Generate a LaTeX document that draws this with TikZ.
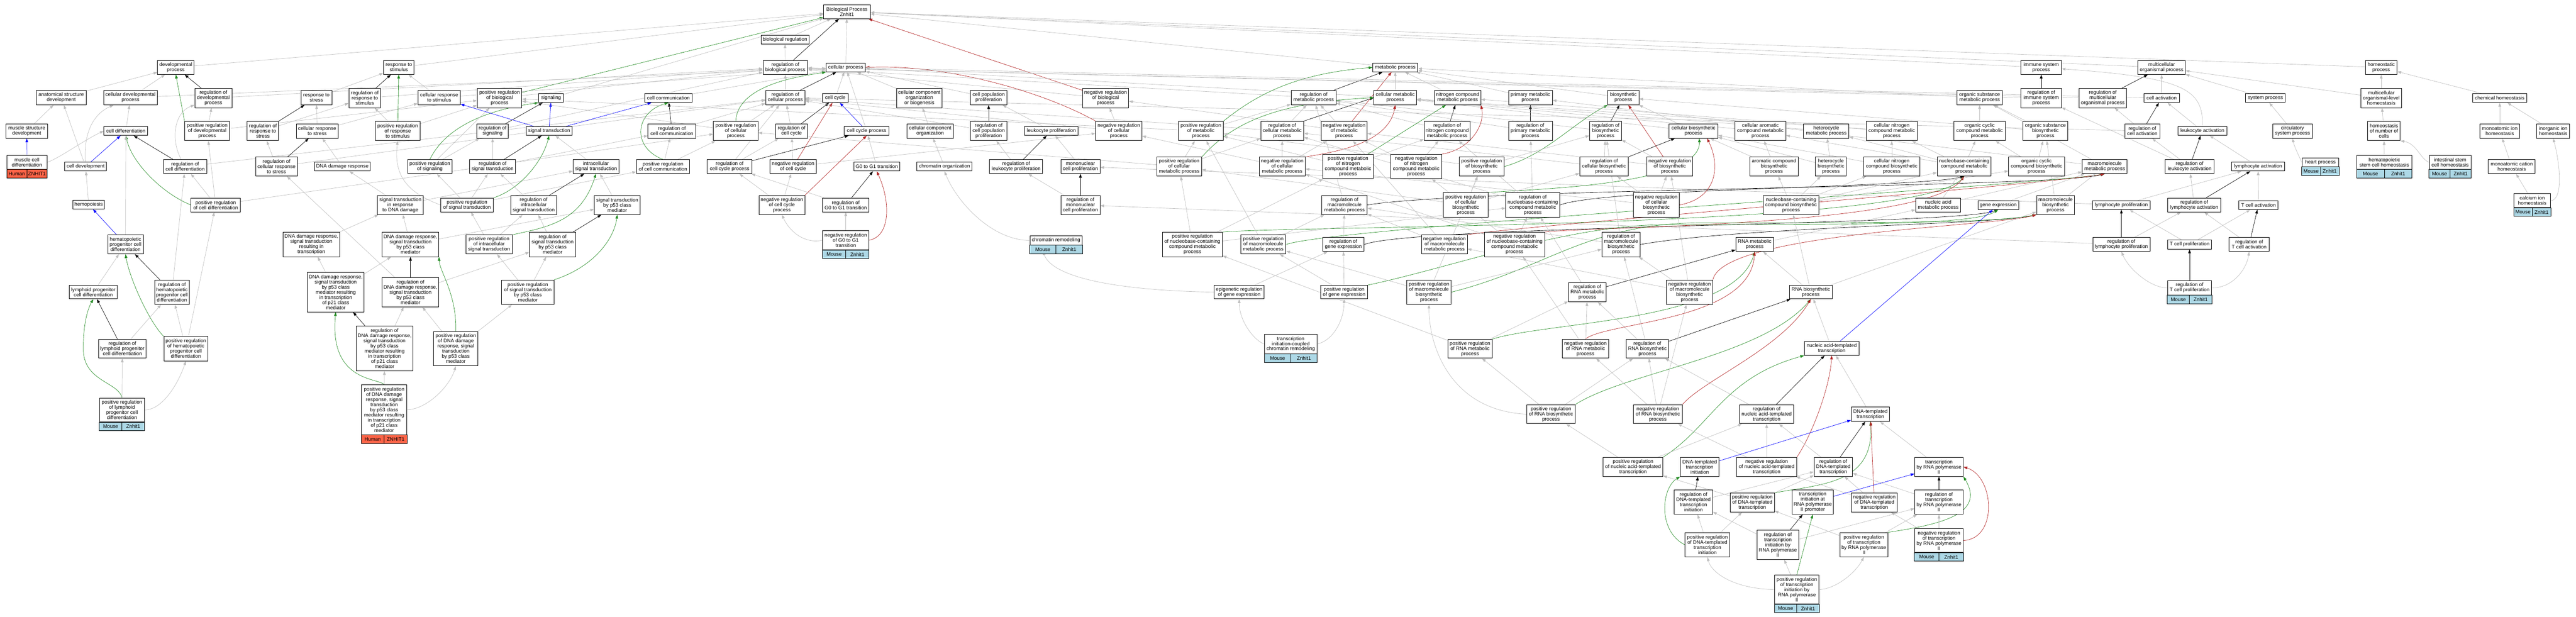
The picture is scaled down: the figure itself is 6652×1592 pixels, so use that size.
\documentclass[tikz,border=0pt]{standalone}
\usepackage{fontspec}
\usepackage{tikz}
\usetikzlibrary{arrows.meta,calc,backgrounds}
\newfontfamily\gofont{Liberation Sans}
\definecolor{edgegrey}{RGB}{190,190,190}
\definecolor{posgreen}{RGB}{34,139,34}
\definecolor{negred}{RGB}{178,34,34}
\definecolor{partblue}{RGB}{0,0,255}
\definecolor{humanred}{RGB}{255,99,71}
\definecolor{mouseblue}{RGB}{173,216,230}
\tikzset{
	term/.style={draw, fill=white, line width=1.2pt, inner sep=0pt, align=center, font=\gofont\fontsize{13}{13.3}\selectfont},
	rowbox/.style={draw=black, line width=1.2pt},
	rowtext/.style={inner sep=0pt, font=\gofont\fontsize{13}{13.3}\selectfont},
	isarel/.style={draw=edgegrey, line width=0.9pt, -{Triangle[length=10pt,width=7pt]}},
	regrel/.style={isarel, draw=black},
	posrel/.style={isarel, draw=posgreen},
	negrel/.style={isarel, draw=negred},
	partrel/.style={isarel, draw=partblue}
}
\newcommand{\goterm}[6]{\node[term, minimum width=#4, minimum height=#5] (#1) at (#2, #3) {#6};}
\newcommand{\generow}[4]{%
	\draw[rowbox, fill=#2] (#1.south west) rectangle ($(#1.south east)+(0,22)$);
	\draw[rowbox] (#1.south) -- ($(#1.south)+(0,22)$);
	\node[rowtext] (#1-sp) at ($(#1.south west)!0.5!(#1.south)+(0,11)$) {#3};
	\node[rowtext] (#1-gn) at ($(#1.south)!0.5!(#1.south east)+(0,11)$) {#4};
}

\begin{document}
\begin{tikzpicture}[x=1pt, y=-1pt]
			%%%%% START %%%%%
			\useasboundingbox (0,0) rectangle (6652,1592);
			
			\goterm{bp}{2187}{30}{120}{36}{Biological Process\\Znhit1}
			\goterm{bioreg}{2027}{102}{124}{23}{biological regulation}
			
			\goterm{devp}{454}{174}{94}{36}{developmental\\process}
			\goterm{resp}{1030}{174}{79}{36}{response to\\stimulus}
			\goterm{regbp}{2028}{174}{115}{36}{regulation of\\biological process}
			\goterm{cellp}{2184}{174}{101}{23}{cellular process}
			\goterm{metab}{3603}{174}{116}{23}{metabolic process}
			\goterm{immsys}{5271}{174}{104}{36}{immune system\\process}
			\goterm{multorg}{5582}{174}{122}{36}{multicellular\\organismal process}
			\goterm{homeo}{6149}{174}{82}{36}{homeostatic\\process}
			
			\goterm{anat}{158}{252}{129}{37}{anatomical structure\\development}
			\goterm{celldev}{337}{252}{139}{37}{cellular developmental\\process}
			\goterm{regdev}{551}{253}{96}{50}{regulation of\\developmental\\process}
			\goterm{respstress}{817}{252}{80}{37}{response to\\stress}
			\goterm{regresp}{942}{253}{82}{50}{regulation of\\response to\\stimulus}
			\goterm{cellresp}{1134}{252}{109}{37}{cellular response\\to stimulus}
			\goterm{posregbp}{1290}{253}{115}{50}{positive regulation\\of biological\\process}
			\goterm{signaling}{1423}{253}{63}{23}{signaling}
			\goterm{cellcomm}{1726}{253}{122}{23}{cell communication}
			\goterm{regcellp}{2028}{252}{101}{37}{regulation of\\cellular process}
			\goterm{cellcycle}{2157}{253}{67}{23}{cell cycle}
			\goterm{ccob}{2374}{253}{118}{50}{cellular component\\organization\\or biogenesis}
			\goterm{cellprolif}{2553}{252}{94}{37}{cell population\\proliferation}
			\goterm{negregbp}{2855}{253}{119}{50}{negative regulation\\of biological\\process}
			\goterm{regmetab}{3392}{252}{116}{37}{regulation of\\metabolic process}
			\goterm{cellmetab}{3603}{252}{110}{37}{cellular metabolic\\process}
			\goterm{nitro}{3764}{252}{119}{37}{nitrogen compound\\metabolic process}
			\goterm{primmetab}{3952}{252}{113}{37}{primary metabolic\\process}
			\goterm{biosyn}{4192}{252}{80}{37}{biosynthetic\\process}
			\goterm{orgsub}{5112}{252}{116}{37}{organic substance\\metabolic process}
			\goterm{regimm}{5271}{253}{104}{50}{regulation of\\immune system\\process}
			\goterm{regmult}{5430}{253}{123}{50}{regulation of\\multicellular\\organismal process}
			\goterm{cellact}{5582}{253}{92}{23}{cell activation}
			\goterm{sysproc}{5850}{253}{102}{23}{system process}
			\goterm{multhomeo}{6149}{253}{104}{50}{multicellular\\organismal-level\\homeostasis}
			\goterm{chemhomeo}{6455}{253}{140}{23}{chemical homeostasis}
			
			\goterm{musclestruct}{69}{338}{107}{37}{muscle structure\\development}
			\goterm{celldiff}{325}{338}{113}{23}{cell differentiation}
			\goterm{posregdev}{535}{338}{116}{50}{positive regulation\\of developmental\\process}
			\goterm{regrespstress}{679}{338}{81}{50}{regulation of\\response to\\stress}
			\goterm{cellrespstress}{819}{338}{108}{37}{cellular response\\to stress}
			\goterm{posregresp}{1027}{338}{116}{50}{positive regulation\\of response\\to stimulus}
			\goterm{regsig}{1272}{338}{81}{37}{regulation of\\signaling}
			\goterm{sigtrans}{1418}{338}{119}{23}{signal transduction}
			\goterm{regcellcomm}{1735}{338}{123}{37}{regulation of\\cell communication}
			\goterm{posregcellp}{1900}{338}{115}{50}{positive regulation\\of cellular\\process}
			\goterm{regcc}{2044}{338}{82}{37}{regulation of\\cell cycle}
			\goterm{ccproc}{2238}{338}{116}{23}{cell cycle process}
			\goterm{ccorg}{2402}{338}{119}{37}{cellular component\\organization}
			\goterm{regcellprolif}{2553}{338}{94}{50}{regulation of\\cell population\\proliferation}
			\goterm{leukprolif}{2715}{338}{138}{23}{leukocyte proliferation}
			\goterm{negregcellp}{2889}{338}{119}{50}{negative regulation\\of cellular\\process}
			\goterm{posregmetab}{3101}{338}{116}{50}{positive regulation\\of metabolic\\process}
			\goterm{regcellmetab}{3311}{338}{111}{50}{regulation of\\cellular metabolic\\process}
			\goterm{negregmetab}{3471}{338}{118}{50}{negative regulation\\of metabolic\\process}
			\goterm{regnitro}{3737}{338}{119}{50}{regulation of\\nitrogen compound\\metabolic process}
			\goterm{regprim}{3952}{338}{113}{50}{regulation of\\primary metabolic\\process}
			\goterm{regbiosyn}{4146}{338}{82}{50}{regulation of\\biosynthetic\\process}
			\goterm{cellbiosyn}{4373}{338}{126}{37}{cellular biosynthetic\\process}
			\goterm{aromet}{4546}{338}{131}{50}{cellular aromatic\\compound metabolic\\process}
			\goterm{hetmet}{4716}{338}{117}{37}{heterocycle\\metabolic process}
			\goterm{cellnitmet}{4885}{338}{131}{50}{cellular nitrogen\\compound metabolic\\process}
			\goterm{orgcycmet}{5112}{338}{132}{50}{organic cyclic\\compound metabolic\\process}
			\goterm{orgsubbiosyn}{5282}{338}{116}{50}{organic substance\\biosynthetic\\process}
			\goterm{regcellact}{5532}{338}{90}{37}{regulation of\\cell activation}
			\goterm{leukact}{5687}{338}{126}{23}{leukocyte activation}
			\goterm{circsys}{5920}{338}{103}{37}{circulatory\\system process}
			\goterm{homeonum}{6156}{338}{84}{50}{homeostasis\\of number of\\cells}
			\goterm{ionhomeo}{6455}{338}{102}{37}{monoatomic ion\\homeostasis}
			\goterm{inorghomeo}{6593}{338}{85}{37}{inorganic ion\\homeostasis}
			
			\goterm{musclediff}{69.5}{419}{103}{36}{muscle cell\\differentiation}
			\generow{musclediff}{humanred}{Human}{ZNHIT1}
			\goterm{celldevel}{221}{430}{108}{23}{cell development}
			\goterm{regcelldiff}{478}{430}{112}{36}{regulation of\\cell differentiation}
			\goterm{regcellrespstress}{714}{430}{108}{49}{regulation of\\cellular response\\to stress}
			\goterm{dnadamage}{884}{430}{143}{23}{DNA damage response}
			\goterm{posregsig}{1110}{430}{114}{36}{positive regulation\\of signaling}
			\goterm{regsigtrans}{1272}{430}{119}{36}{regulation of\\signal transduction}
			\goterm{intrasig}{1539}{430}{118}{36}{intracellular\\signal transduction}
			\goterm{posregcellcomm}{1712}{430}{137}{36}{positive regulation\\of cell communication}
			\goterm{regccproc}{1884}{430}{115}{36}{regulation of\\cell cycle process}
			\goterm{negregcc}{2048}{430}{119}{36}{negative regulation\\of cell cycle}
			\goterm{g0g1}{2264}{430}{118}{23}{G0 to G1 transition}
			\goterm{chromorg}{2439}{430}{142}{23}{chromatin organization}
			\goterm{regleukprolif}{2624}{430}{137}{36}{regulation of\\leukocyte proliferation}
			\goterm{mnprolif}{2790}{430}{101}{36}{mononuclear\\cell proliferation}
			\goterm{posregcellmetab}{3045}{430}{116}{49}{positive regulation\\of cellular\\metabolic process}
			\goterm{negregcellmetab}{3311}{430}{119}{49}{negative regulation\\of cellular\\metabolic process}
			\goterm{posregnitro}{3481}{430}{131}{63}{positive regulation\\of nitrogen\\compound metabolic\\process}
			\goterm{negregnitro}{3657}{430}{131}{63}{negative regulation\\of nitrogen\\compound metabolic\\process}
			\goterm{posregbiosyn}{3826}{430}{115}{49}{positive regulation\\of biosynthetic\\process}
			\goterm{regcellbiosyn}{4142}{430}{125}{49}{regulation of\\cellular biosynthetic\\process}
			\goterm{negregbiosyn}{4312}{430}{119}{49}{negative regulation\\of biosynthetic\\process}
			\goterm{arobiosyn}{4581}{430}{124}{49}{aromatic compound\\biosynthetic\\process}
			\goterm{hetbiosyn}{4728}{430}{80}{49}{heterocycle\\biosynthetic\\process}
			\goterm{cellnitbiosyn}{4885}{430}{144}{49}{cellular nitrogen\\compound biosynthetic\\process}
			\goterm{nucmet}{5072}{430}{139}{49}{nucleobase-containing\\compound metabolic\\process}
			\goterm{orgcycbiosyn}{5259}{430}{144}{49}{organic cyclic\\compound biosynthetic\\process}
			\goterm{macromet}{5435}{430}{116}{36}{macromolecule\\metabolic process}
			\goterm{regleukact}{5654}{430}{126}{36}{regulation of\\leukocyte activation}
			\goterm{lymphact}{5831}{430}{137}{23}{lymphocyte activation}
			\goterm{heart}{5992}{419}{95}{22}{heart process}
			\generow{heart}{mouseblue}{Mouse}{Znhit1}
			\goterm{hsch}{6157}{419}{142}{36}{hematopoietic\\stem cell homeostasis}
			\generow{hsch}{mouseblue}{Mouse}{Znhit1}
			\goterm{isch}{6327}{419}{108}{36}{intestinal stem\\cell homeostasis}
			\generow{isch}{mouseblue}{Mouse}{Znhit1}
			\goterm{cationhomeo}{6486}{430}{121}{36}{monoatomic cation\\homeostasis}
			
			\goterm{hemo}{229}{528}{82}{23}{hemopoiesis}
			\goterm{posregcelldiff}{557}{529}{127}{36}{positive regulation\\of cell differentiation}
			\goterm{sigdna}{1034}{529}{118}{49}{signal transduction\\in response\\to DNA damage}
			\goterm{posregsigtrans}{1206}{529}{136}{36}{positive regulation\\of signal transduction}
			\goterm{regintrasig}{1378}{529}{118}{49}{regulation of\\intracellular\\signal transduction}
			\goterm{sigp53}{1594}{529}{118}{49}{signal transduction\\by p53 class\\mediator}
			\goterm{negregccproc}{2019}{529}{118}{49}{negative regulation\\of cell cycle\\process}
			\goterm{regg0g1}{2184}{529}{119}{36}{regulation of\\G0 to G1 transition}
			\goterm{regmnprolif}{2790}{529}{101}{49}{regulation of\\mononuclear\\cell proliferation}
			\goterm{regmacromet}{3472}{529}{117}{49}{regulation of\\macromolecule\\metabolic process}
			\goterm{posregcellbiosyn}{3785}{529}{115}{63}{positive regulation\\of cellular\\biosynthetic\\process}
			\goterm{regnucmet}{3958}{529}{139}{63}{regulation of\\nucleobase-containing\\compound metabolic\\process}
			\goterm{negregcellbiosyn}{4277}{529}{119}{63}{negative regulation\\of cellular\\biosynthetic\\process}
			\goterm{nucbiosyn}{4625}{529}{144}{49}{nucleobase-containing\\compound biosynthetic\\process}
			\goterm{nucacidmet}{5005}{529}{116}{36}{nucleic acid\\metabolic process}
			\goterm{geneexp}{5160}{529}{105}{23}{gene expression}
			\goterm{macrobiosyn}{5308}{529}{98}{49}{macromolecule\\biosynthetic\\process}
			\goterm{lymphprolif}{5478}{529}{149}{23}{lymphocyte proliferation}
			\goterm{reglymphact}{5666}{529}{138}{36}{regulation of\\lymphocyte activation}
			\goterm{tcellact}{5832}{529}{101}{23}{T cell activation}
			\goterm{calcium}{6539}{518}{95}{36}{calcium ion\\homeostasis}
			\generow{calcium}{mouseblue}{Mouse}{Znhit1}
			
			\goterm{hpcdiff}{324}{631}{92}{49}{hematopoietic\\progenitor cell\\differentiation}
			\goterm{dnasigtrans}{804}{631}{146}{63}{DNA damage response,\\signal transduction\\resulting in\\transcription}
			\goterm{dnap53}{1060}{631}{146}{63}{DNA damage response,\\signal transduction\\by p53 class\\mediator}
			\goterm{posregintrasig}{1263}{631}{119}{49}{positive regulation\\of intracellular\\signal transduction}
			\goterm{regsigp53}{1427}{631}{119}{63}{regulation of\\signal transduction\\by p53 class\\mediator}
			\goterm{negregg0g1}{2184}{620}{119}{50}{negative regulation\\of G0 to G1\\transition}
			\generow{negregg0g1}{mouseblue}{Mouse}{Znhit1}
			\goterm{chromremod}{2727}{620.5}{135}{23}{chromatin remodeling}
			\generow{chromremod}{mouseblue}{Mouse}{Znhit1}
			\goterm{posregnucmet}{3079}{631}{155}{63}{positive regulation\\of nucleobase-containing\\compound metabolic\\process}
			\goterm{posregmacromet}{3262}{631}{117}{49}{positive regulation\\of macromolecule\\metabolic process}
			\goterm{reggeneexp}{3469}{631}{107}{36}{regulation of\\gene expression}
			\goterm{negregmacromet}{3730}{631}{118}{49}{negative regulation\\of macromolecule\\metabolic process}
			\goterm{negregnucmet}{3911}{631}{155}{63}{negative regulation\\of nucleobase-containing\\compound metabolic\\process}
			\goterm{regmacrobiosyn}{4186}{631}{99}{63}{regulation of\\macromolecule\\biosynthetic\\process}
			\goterm{rnamet}{4531}{631}{97}{36}{RNA metabolic\\process}
			\goterm{reglymphprolif}{5478}{631}{148}{36}{regulation of\\lymphocyte proliferation}
			\goterm{tcellprolif}{5654}{631}{114}{24}{T cell proliferation}
			\goterm{regtcellact}{5808}{631}{103}{36}{regulation of\\T cell activation}
			
			\goterm{lymphprog}{241}{754}{123}{35}{lymphoid progenitor\\cell differentiation}
			\goterm{reghpcdiff}{444}{754}{89}{63}{regulation of\\hematopoietic\\progenitor cell\\differentiation}
			\goterm{dnap21}{867}{754}{147}{102}{DNA damage response,\\signal transduction\\by p53 class\\mediator resulting\\in transcription\\of p21 class\\mediator}
			\goterm{regdnap53}{1060}{754}{146}{76}{regulation of\\DNA damage response,\\signal transduction\\by p53 class\\mediator}
			\goterm{posregsigp53}{1363}{754}{136}{63}{positive regulation\\of signal transduction\\by p53 class\\mediator}
			\goterm{epigen}{3200}{754}{129}{35}{epigenetic regulation\\of gene expression}
			\goterm{posreggeneexp}{3471}{754}{120}{35}{positive regulation\\of gene expression}
			\goterm{posregmacrobiosyn}{3690}{754}{115}{63}{positive regulation\\of macromolecule\\biosynthetic\\process}
			\goterm{regrnamet}{4099}{754}{97}{50}{regulation of\\RNA metabolic\\process}
			\goterm{negregmacrobiosyn}{4363}{754}{119}{63}{negative regulation\\of macromolecule\\biosynthetic\\process}
			\goterm{rnabiosyn}{4676}{754}{111}{35}{RNA biosynthetic\\process}
			\goterm{regtcellprolif}{5654}{742.5}{114}{37}{regulation of\\T cell proliferation}
			\generow{regtcellprolif}{mouseblue}{Mouse}{Znhit1}
			
			\goterm{reglymphprog}{316}{900}{122}{49}{regulation of\\lymphoid progenitor\\cell differentiation}
			\goterm{posreghpcdiff}{480}{900}{114}{63}{positive regulation\\of hematopoietic\\progenitor cell\\differentiation}
			\goterm{regdnap21}{993}{899}{147}{116}{regulation of\\DNA damage response,\\signal transduction\\by p53 class\\mediator resulting\\in transcription\\of p21 class\\mediator}
			\goterm{posregdnap53}{1177}{900}{115}{89}{positive regulation\\of DNA damage\\response, signal\\transduction\\by p53 class\\mediator}
			\goterm{transchrom}{3333}{888}{135}{50}{transcription\\initiation-coupled\\chromatin remodeling}
			\generow{transchrom}{mouseblue}{Mouse}{Znhit1}
			\goterm{posregrnamet}{3796}{900}{115}{49}{positive regulation\\of RNA metabolic\\process}
			\goterm{negregrnamet}{4094}{900}{119}{49}{negative regulation\\of RNA metabolic\\process}
			\goterm{regrnabiosyn}{4254}{900}{110}{49}{regulation of\\RNA biosynthetic\\process}
			\goterm{natrans}{4730}{899}{141}{36}{nucleic acid-templated\\transcription}
			
			\goterm{posreglymphprog}{315}{1058}{116}{62}{positive regulation\\of lymphoid\\progenitor cell\\differentiation}
			\generow{posreglymphprog}{mouseblue}{Mouse}{Znhit1}
			\goterm{posregdnap21}{992}{1057.5}{117}{129}{positive regulation\\of DNA damage\\response, signal\\transduction\\by p53 class\\mediator resulting\\in transcription\\of p21 class\\mediator}
			\generow{posregdnap21}{humanred}{Human}{ZNHIT1}
			\goterm{posregrnabiosyn}{4005}{1069}{125}{49}{positive regulation\\of RNA biosynthetic\\process}
			\goterm{negregrnabiosyn}{4281}{1069}{126}{49}{negative regulation\\of RNA biosynthetic\\process}
			\goterm{regnatrans}{4562}{1069}{140}{49}{regulation of\\nucleic acid-templated\\transcription}
			\goterm{dnatrans}{4830}{1069}{99}{37}{DNA-templated\\transcription}
			
			\goterm{posregnatrans}{4217}{1205}{154}{49}{positive regulation\\of nucleic acid-templated\\transcription}
			\goterm{dnatransinit}{4389}{1205}{100}{49}{DNA-templated\\transcription\\initiation}
			\goterm{negregnatrans}{4562}{1205}{155}{49}{negative regulation\\of nucleic acid-templated\\transcription}
			\goterm{regdnatrans}{4734}{1205}{99}{49}{regulation of\\DNA-templated\\transcription}
			\goterm{transpol2}{5007}{1205}{125}{49}{transcription\\by RNA polymerase\\II}
			
			\goterm{regdnatransinit}{4373}{1296}{99}{63}{regulation of\\DNA-templated\\transcription\\initiation}
			\goterm{posregdnatrans}{4525}{1297}{114}{49}{positive regulation\\of DNA-templated\\transcription}
			\goterm{transinitpol2}{4681}{1296}{106}{63}{transcription\\initiation at\\RNA polymerase\\II promoter}
			\goterm{negregdnatrans}{4840}{1297}{118}{49}{negative regulation\\of DNA-templated\\transcription}
			\goterm{regtranspol2}{5007}{1296}{125}{63}{regulation of\\transcription\\by RNA polymerase\\II}
			
			\goterm{posregdnatransinit}{4409}{1406}{116}{63}{positive regulation\\of DNA-templated\\transcription\\initiation}
			\goterm{regtransinitpol2}{4591}{1406}{108}{76}{regulation of\\transcription\\initiation by\\RNA polymerase\\II}
			\goterm{posregtranspol2}{4813}{1406}{124}{63}{positive regulation\\of transcription\\by RNA polymerase\\II}
			\goterm{negregtranspol2}{5007}{1395}{126}{62}{negative regulation\\of transcription\\by RNA polymerase\\II}
			\generow{negregtranspol2}{mouseblue}{Mouse}{Znhit1}
			\goterm{posregtransinitpol2}{4640}{1521.5}{115}{75}{positive regulation\\of transcription\\initiation by\\RNA polymerase\\II}
			\generow{posregtransinitpol2}{mouseblue}{Mouse}{Znhit1}
			
			\begin{scope}[on background layer]
			\fill[white] (0,0) rectangle (6652,1592);
			
			\draw[isarel] (bioreg) -- (bp);
			\draw[regrel] (regbp) -- (bp);
			\draw[isarel] (regbp) -- (bioreg);
			\draw[isarel] (cellp) -- (bp);
			\draw[posrel] (posregbp) -- (bp);
			\draw[negrel] (negregbp) -- (bp);
			\draw[isarel] (devp) -- (bp);
			\draw[isarel] (resp) -- (bp);
			\draw[isarel] (signaling) -- (bp);
			\draw[isarel] (metab) -- (bp);
			\draw[isarel] (immsys) -- (bp);
			\draw[isarel] (multorg) -- (bp);
			\draw[isarel] (homeo) -- (bp);
			
			\draw[isarel] (anat) -- (devp);
			\draw[isarel] (celldev) -- (devp);
			\draw[isarel] (celldev) -- (cellp);
			\draw[regrel] (regdev) -- (devp);
			\draw[isarel] (regdev) -- (regbp);
			\draw[isarel] (musclestruct) -- (anat);
			\draw[isarel] (celldiff) -- (celldev);
			\draw[posrel] (posregdev.north west) -- (devp.south);
			\draw[isarel] (posregdev) -- (regdev);
			\draw[isarel] (posregdev) -- (posregbp);
			\draw[partrel] (musclediff) -- (musclestruct);
			\draw[isarel] (musclediff.east) .. controls (150,410) and (220,360) .. (celldiff.west);
			\draw[partrel] (celldevel) -- (celldiff);
			\draw[isarel] (celldevel) -- (anat);
			\draw[isarel] (celldevel) .. controls (215,330) and (250,290) .. (celldev);
			\draw[regrel] (regcelldiff) -- (celldiff);
			\draw[isarel] (regcelldiff) .. controls (440,360) and (450,290) .. (regdev);
			\draw[isarel] (regcelldiff) -- (regcellp);
			\draw[posrel] (posregcelldiff.west) .. controls (420,500) and (340,420) .. (celldiff.south);
			\draw[isarel] (posregcelldiff) -- (regcelldiff);
			\draw[isarel] (posregcelldiff) -- (posregdev);
			\draw[isarel] (posregcelldiff) -- (posregcellp);
			\draw[isarel] (hemo) -- (celldevel);
			\draw[partrel] (hpcdiff) -- (hemo);
			\draw[isarel] (hpcdiff) -- (celldiff);
			\draw[isarel] (lymphprog) -- (hpcdiff);
			\draw[regrel] (reghpcdiff) -- (hpcdiff);
			\draw[isarel] (reghpcdiff) -- (regcelldiff);
			\draw[posrel] (posreghpcdiff.north west) .. controls (385,830) and (335,720) .. (hpcdiff.south);
			\draw[isarel] (posreghpcdiff) -- (reghpcdiff);
			\draw[isarel] (posreghpcdiff) -- (posregcelldiff);
			\draw[regrel] (reglymphprog) -- (lymphprog);
			\draw[isarel] (reglymphprog) -- (reghpcdiff);
			\draw[posrel] (posreglymphprog.north) .. controls (305,985) and (215,985) .. (215,900) .. controls (215,840) and (225,800) .. (lymphprog.south);
			\draw[isarel] (posreglymphprog) -- (reglymphprog);
			\draw[isarel] (posreglymphprog.east) .. controls (420,1058) and (460,990) .. (posreghpcdiff.south);
			
			\draw[isarel] (respstress) -- (resp);
			\draw[regrel] (regresp) -- (resp);
			\draw[isarel] (regresp) -- (regbp);
			\draw[isarel] (cellresp) -- (resp);
			\draw[isarel] (cellresp) -- (cellp);
			\draw[regrel] (regrespstress) -- (respstress);
			\draw[isarel] (regrespstress) -- (regresp);
			\draw[isarel] (cellrespstress) -- (respstress);
			\draw[isarel] (cellrespstress) -- (cellresp);
			\draw[posrel] (posregresp) -- (resp);
			\draw[isarel] (posregresp) -- (regresp);
			\draw[isarel] (posregresp) -- (posregbp);
			\draw[regrel] (regcellrespstress) -- (cellrespstress);
			\draw[isarel] (regcellrespstress) -- (regrespstress);
			\draw[isarel] (regcellrespstress) -- (regcellp);
			\draw[isarel] (dnadamage) -- (cellrespstress);
			\draw[isarel] (sigdna) -- (dnadamage);
			\draw[isarel] (sigdna) -- (intrasig);
			\draw[isarel] (dnasigtrans) -- (sigdna);
			\draw[isarel] (dnap53) -- (sigdna);
			\draw[isarel] (dnap53) -- (sigp53);
			\draw[isarel] (dnap21) -- (dnasigtrans);
			\draw[isarel] (dnap21) -- (dnap53);
			\draw[regrel] (regdnap53) -- (dnap53);
			\draw[isarel] (regdnap53) -- (regcellrespstress);
			\draw[isarel] (regdnap53) -- (regsigp53);
			\draw[regrel] (regdnap21) -- (dnap21);
			\draw[isarel] (regdnap21) -- (regdnap53);
			\draw[posrel] (posregdnap21.north) .. controls (975,975) and (850,985) .. (dnap21.south);
			\draw[isarel] (posregdnap21) -- (regdnap21);
			\draw[isarel] (posregdnap21.east) .. controls (1100,1057) and (1160,1000) .. (posregdnap53.south);
			\draw[posrel] (posregdnap53.north) .. controls (1180,760) and (1135,700) .. (dnap53.south east);
			\draw[isarel] (posregdnap53) -- (regdnap53);
			\draw[isarel] (posregdnap53) -- (posregsigp53);
			
			\draw[isarel] (regsig) -- (regbp);
			\draw[regrel] (regsig) -- (signaling);
			\draw[posrel] (posregsig.north) .. controls (1150,330) and (1250,285) .. (signaling.south west);
			\draw[isarel] (posregsig) -- (regsig);
			\draw[isarel] (posregsig) -- (posregbp);
			\draw[partrel] (sigtrans) -- (signaling);
			\draw[partrel] (sigtrans) -- (cellcomm);
			\draw[partrel] (sigtrans) -- (cellresp);
			\draw[regrel] (regsigtrans) -- (sigtrans);
			\draw[isarel] (regsigtrans) -- (regsig);
			\draw[isarel] (regsigtrans) -- (regcellcomm);
			\draw[isarel] (intrasig) -- (sigtrans);
			\draw[posrel] (posregsigtrans.north east) .. controls (1340,490) and (1400,420) .. (sigtrans.south);
			\draw[isarel] (posregsigtrans) -- (regsigtrans);
			\draw[isarel] (posregsigtrans) -- (posregsig);
			\draw[isarel] (posregsigtrans.west) .. controls (1060,500) and (1015,460) .. (posregresp.south);
			\draw[isarel] (posregsigtrans) -- (posregcellcomm);
			\draw[regrel] (regintrasig) -- (intrasig);
			\draw[isarel] (regintrasig) -- (regsigtrans);
			\draw[isarel] (sigp53) -- (intrasig);
			\draw[posrel] (posregintrasig.north east) .. controls (1420,585) and (1500,570) .. (intrasig.south);
			\draw[isarel] (posregintrasig) -- (regintrasig);
			\draw[isarel] (posregintrasig) -- (posregsigtrans);
			\draw[regrel] (regsigp53) -- (sigp53);
			\draw[isarel] (regsigp53) -- (regintrasig);
			\draw[posrel] (posregsigp53.north east) .. controls (1530,690) and (1585,620) .. (sigp53.south);
			\draw[isarel] (posregsigp53) -- (regsigp53);
			\draw[isarel] (posregsigp53) -- (posregintrasig);
			\draw[isarel] (cellcomm) -- (cellp);
			\draw[regrel] (regcellcomm) -- (cellcomm);
			\draw[isarel] (regcellcomm) -- (regcellp);
			\draw[posrel] (posregcellcomm.north) .. controls (1630,380) and (1640,290) .. (cellcomm.south);
			\draw[isarel] (posregcellcomm) -- (regcellcomm);
			\draw[isarel] (posregcellcomm) -- (posregcellp);
			
			\draw[regrel] (regcellp) -- (cellp);
			\draw[isarel] (regcellp) -- (regbp);
			\draw[posrel] (posregcellp.north) .. controls (1905,215) and (2080,195) .. (cellp.south west);
			\draw[isarel] (posregcellp) -- (regcellp);
			\draw[isarel] (posregcellp) -- (posregbp);
			\draw[isarel] (posregbp) -- (regbp);
			\draw[isarel] (cellcycle) -- (cellp);
			\draw[regrel] (regcc) -- (cellcycle);
			\draw[isarel] (regcc) -- (regcellp);
			\draw[partrel] (ccproc) -- (cellcycle);
			\draw[isarel] (ccproc) -- (cellp);
			\draw[regrel] (regccproc) -- (ccproc);
			\draw[isarel] (regccproc) -- (regcc);
			\draw[isarel] (regccproc) -- (regcellp);
			\draw[negrel] (negregcc) -- (cellcycle);
			\draw[isarel] (negregcc) -- (regcc);
			\draw[isarel] (negregcc) -- (negregcellp);
			\draw[isarel] (g0g1) -- (ccproc);
			\draw[negrel] (negregccproc.north east) -- (ccproc.south);
			\draw[isarel] (negregccproc) -- (regccproc);
			\draw[isarel] (negregccproc) -- (negregcc);
			\draw[regrel] (regg0g1) -- (g0g1);
			\draw[isarel] (regg0g1) -- (regccproc);
			\draw[negrel] (negregg0g1.east) .. controls (2300,610) and (2300,520) .. (g0g1.south);
			\draw[isarel] (negregg0g1) -- (regg0g1);
			\draw[isarel] (negregg0g1.west) .. controls (2080,630) and (2040,600) .. (negregccproc.south);
			
			\draw[isarel] (ccob) -- (cellp);
			\draw[isarel] (cellprolif) -- (cellp);
			\draw[isarel] (ccorg) -- (ccob);
			\draw[regrel] (regcellprolif) -- (cellprolif);
			\draw[isarel] (regcellprolif) -- (regcellp);
			\draw[isarel] (leukprolif) -- (cellprolif);
			\draw[isarel] (chromorg) -- (ccorg);
			\draw[regrel] (regleukprolif) -- (leukprolif);
			\draw[isarel] (regleukprolif) -- (regcellprolif);
			\draw[isarel] (mnprolif) -- (leukprolif);
			\draw[regrel] (regmnprolif) -- (mnprolif);
			\draw[isarel] (regmnprolif) -- (regleukprolif);
			\draw[isarel] (chromremod.west) .. controls (2560,620) and (2470,520) .. (chromorg.south);
			\draw[isarel] (negregbp) -- (regbp);
			\draw[negrel] (negregcellp.north west) .. controls (2700,240) and (2450,165) .. (cellp.east);
			\draw[isarel] (negregcellp) -- (negregbp);
			\draw[isarel] (negregcellp) -- (regcellp);
			\draw[isarel] (lymphprolif) -- (mnprolif);
			\draw[regrel] (reglymphprolif) -- (lymphprolif);
			\draw[isarel] (reglymphprolif) -- (regmnprolif);
			
			\draw[regrel] (regmetab) -- (metab);
			\draw[isarel] (regmetab) -- (regbp);
			\draw[isarel] (cellmetab) -- (metab);
			\draw[isarel] (cellmetab) -- (cellp);
			\draw[isarel] (nitro) -- (metab);
			\draw[isarel] (primmetab) -- (metab);
			\draw[isarel] (biosyn) -- (metab);
			\draw[isarel] (orgsub) -- (metab);
			\draw[posrel] (posregmetab.north east) .. controls (3250,240) and (3350,190) .. (metab.west);
			\draw[isarel] (posregmetab) -- (regmetab);
			\draw[isarel] (posregmetab) -- (posregbp);
			\draw[regrel] (regcellmetab.north east) -- (cellmetab.west);
			\draw[isarel] (regcellmetab) -- (regmetab);
			\draw[isarel] (regcellmetab) -- (regcellp);
			\draw[negrel] (negregmetab) -- (metab);
			\draw[isarel] (negregmetab) -- (regmetab);
			\draw[isarel] (negregmetab) -- (negregbp);
			\draw[regrel] (regnitro) -- (nitro);
			\draw[isarel] (regnitro) -- (regmetab);
			\draw[regrel] (regprim) -- (primmetab);
			\draw[isarel] (regprim) -- (regmetab);
			\draw[regrel] (regbiosyn) -- (biosyn);
			\draw[isarel] (regbiosyn) -- (regmetab);
			\draw[isarel] (cellbiosyn) -- (biosyn);
			\draw[isarel] (cellbiosyn) -- (cellmetab);
			\draw[posrel] (posregcellmetab.north east) .. controls (3180,320) and (3290,265) .. (cellmetab.west);
			\draw[isarel] (posregcellmetab) -- (posregmetab);
			\draw[isarel] (posregcellmetab) -- (regcellmetab);
			\draw[isarel] (posregcellmetab) -- (posregcellp);
			\draw[negrel] (negregcellmetab.north east) .. controls (3450,392) and (3585,370) .. (cellmetab.south);
			\draw[isarel] (negregcellmetab) -- (negregmetab);
			\draw[isarel] (negregcellmetab) -- (regcellmetab);
			\draw[isarel] (negregcellmetab) -- (negregcellp);
			\draw[posrel] (posregnitro) -- (nitro);
			\draw[isarel] (posregnitro) -- (regnitro);
			\draw[isarel] (posregnitro) -- (posregmetab);
			\draw[negrel] (negregnitro.north east) .. controls (3800,385) and (3835,320) .. (nitro.south east);
			\draw[isarel] (negregnitro) -- (regnitro);
			\draw[isarel] (negregnitro) -- (negregmetab);
			\draw[posrel] (posregbiosyn.east) .. controls (3990,400) and (4060,320) .. (biosyn.south west);
			\draw[isarel] (posregbiosyn) -- (regbiosyn);
			\draw[isarel] (posregbiosyn) -- (posregmetab);
			\draw[regrel] (regcellbiosyn) -- (cellbiosyn);
			\draw[isarel] (regcellbiosyn) -- (regbiosyn);
			\draw[isarel] (regcellbiosyn) -- (regcellmetab);
			\draw[negrel] (negregbiosyn) -- (biosyn);
			\draw[isarel] (negregbiosyn) -- (regbiosyn);
			\draw[isarel] (negregbiosyn) -- (negregmetab);
			\draw[regrel] (regmacromet.east) .. controls (3800,485) and (5300,485) .. (macromet.south);
			\draw[isarel] (regmacromet) -- (regmetab);
			\draw[posrel] (posregcellbiosyn.north east) .. controls (3950,488) and (4392,480) .. ($(cellbiosyn.south)+(15,0)$);
			\draw[isarel] (posregcellbiosyn) -- (posregbiosyn);
			\draw[isarel] (posregcellbiosyn) -- (regcellbiosyn);
			\draw[isarel] (posregcellbiosyn) -- (posregcellmetab);
			\draw[regrel] (regnucmet.east) .. controls (4150,485) and (4950,485) .. (nucmet.south);
			\draw[isarel] (regnucmet) -- (regcellmetab);
			\draw[isarel] (regnucmet) -- (regnitro);
			\draw[isarel] (regnucmet) -- (regprim);
			\draw[negrel] (negregcellbiosyn.east) .. controls (4440,510) and (4440,420) .. ($(cellbiosyn.south)+(35,0)$);
			\draw[isarel] (negregcellbiosyn) -- (negregbiosyn);
			\draw[isarel] (negregcellbiosyn) -- (regcellbiosyn);
			\draw[isarel] (negregcellbiosyn) -- (negregcellmetab);
			\draw[posrel] (posregnucmet.north east) .. controls (3350,582) and (4950,590) .. (nucmet.south);
			\draw[isarel] (posregnucmet) -- (regnucmet);
			\draw[isarel] (posregnucmet) -- (posregcellmetab);
			\draw[isarel] (posregnucmet) -- (posregnitro);
			\draw[posrel] (posregmacromet.east) .. controls (3450,585) and (5250,480) .. (macromet.south);
			\draw[isarel] (posregmacromet) -- (regmacromet);
			\draw[isarel] (posregmacromet) -- (posregmetab);
			\draw[regrel] (reggeneexp.east) .. controls (3650,582) and (5050,582) .. (geneexp.south);
			\draw[isarel] (reggeneexp) -- (regmacromet);
			\draw[negrel] (negregmacromet.north east) .. controls (3900,585) and (5250,480) .. (macromet.south);
			\draw[isarel] (negregmacromet) -- (regmacromet);
			\draw[isarel] (negregmacromet) -- (negregmetab);
			\draw[negrel] (negregnucmet.north east) .. controls (4100,585) and (4980,585) .. (nucmet.south);
			\draw[isarel] (negregnucmet) -- (regnucmet);
			\draw[isarel] (negregnucmet) -- (negregcellmetab);
			\draw[isarel] (negregnucmet) -- (negregnitro);
			\draw[regrel] (regmacrobiosyn.east) .. controls (4500,585) and (5150,580) .. (macrobiosyn.south west);
			\draw[isarel] (regmacrobiosyn) -- (regbiosyn);
			\draw[isarel] (regmacrobiosyn) -- (regmacromet);
			\draw[posrel] (posreggeneexp.north east) .. controls (3750,690) and (4050,580) .. (4300,580) .. controls (4800,580) and (5100,580) .. (geneexp.south);
			\draw[isarel] (posreggeneexp) -- (reggeneexp);
			\draw[isarel] (posreggeneexp) -- (posregmacromet);
			\draw[posrel] (posregmacrobiosyn.east) .. controls (4000,690) and (4100,575) .. (4400,575) .. controls (4900,575) and (5150,575) .. (macrobiosyn.south west);
			\draw[isarel] (posregmacrobiosyn) -- (regmacrobiosyn);
			\draw[isarel] (posregmacrobiosyn) -- (posregbiosyn);
			\draw[isarel] (posregmacrobiosyn) -- (posregmacromet);
			\draw[regrel] (regrnamet) -- (rnamet);
			\draw[isarel] (regrnamet) -- (regnucmet);
			\draw[negrel] (negregmacrobiosyn.north east) .. controls (4450,600) and (5150,585) .. (macrobiosyn.south west);
			\draw[isarel] (negregmacrobiosyn) -- (regmacrobiosyn);
			\draw[isarel] (negregmacrobiosyn) -- (negregbiosyn);
			\draw[isarel] (negregmacrobiosyn) -- (negregmacromet);
			\draw[isarel] (epigen) -- (reggeneexp);
			\draw[isarel] (epigen.west) .. controls (2900,750) and (2720,720) .. (chromremod-sp.south);
			\draw[isarel] (transchrom.west) .. controls (3240,880) and (3200,830) .. (epigen.south);
			\draw[isarel] (transchrom.east) .. controls (3440,880) and (3470,830) .. (posreggeneexp.south);
			
			\draw[isarel] (aromet) -- (cellmetab);
			\draw[isarel] (hetmet) -- (cellmetab);
			\draw[isarel] (cellnitmet) -- (nitro);
			\draw[isarel] (cellnitmet) -- (cellmetab);
			\draw[isarel] (orgcycmet) -- (orgsub);
			\draw[isarel] (orgsubbiosyn) -- (orgsub);
			\draw[isarel] (orgsubbiosyn) -- (biosyn);
			\draw[isarel] (arobiosyn) -- (aromet);
			\draw[isarel] (arobiosyn) -- (cellbiosyn);
			\draw[isarel] (hetbiosyn) -- (hetmet);
			\draw[isarel] (hetbiosyn) -- (cellbiosyn);
			\draw[isarel] (cellnitbiosyn) -- (cellnitmet);
			\draw[isarel] (cellnitbiosyn) -- (cellbiosyn);
			\draw[isarel] (nucmet) -- (aromet);
			\draw[isarel] (nucmet) -- (hetmet);
			\draw[isarel] (nucmet) -- (cellnitmet);
			\draw[isarel] (nucmet) -- (orgcycmet);
			\draw[isarel] (orgcycbiosyn) -- (orgcycmet);
			\draw[isarel] (orgcycbiosyn) -- (orgsubbiosyn);
			\draw[isarel] (macromet) -- (orgsub);
			\draw[isarel] (macromet) -- (primmetab);
			\draw[isarel] (nucbiosyn) -- (nucmet);
			\draw[isarel] (nucbiosyn) -- (arobiosyn);
			\draw[isarel] (nucbiosyn) -- (hetbiosyn);
			\draw[isarel] (nucbiosyn) -- (cellnitbiosyn);
			\draw[isarel] (nucbiosyn) -- (orgcycbiosyn);
			\draw[isarel] (nucacidmet) -- (nucmet);
			\draw[isarel] (nucacidmet) -- (macromet);
			\draw[isarel] (geneexp) -- (macromet);
			\draw[isarel] (macrobiosyn) -- (macromet);
			\draw[isarel] (macrobiosyn) -- (orgsubbiosyn);
			\draw[isarel] (rnamet) -- (nucacidmet);
			\draw[isarel] (rnabiosyn) -- (rnamet);
			\draw[isarel] (rnabiosyn) -- (nucbiosyn);
			\draw[isarel] (rnabiosyn) -- (macrobiosyn);
			
			\draw[isarel] (natrans) -- (rnabiosyn);
			\draw[partrel] (natrans) -- (geneexp);
			\draw[isarel] (dnatrans) -- (natrans);
			\draw[isarel] (transpol2) -- (dnatrans);
			\draw[regrel] (regnatrans) -- (natrans);
			\draw[isarel] (regnatrans) -- (regrnabiosyn);
			\draw[posrel] (posregnatrans.north east) .. controls (4420,1100) and (4450,975) .. (natrans.south west);
			\draw[isarel] (posregnatrans) -- (regnatrans);
			\draw[isarel] (posregnatrans) -- (posregrnabiosyn);
			\draw[negrel] (negregnatrans.north east) .. controls (4680,1120) and (4725,1000) .. (natrans.south);
			\draw[isarel] (negregnatrans) -- (regnatrans);
			\draw[isarel] (negregnatrans) -- (negregrnabiosyn);
			\draw[regrel] (regdnatrans) -- (dnatrans);
			\draw[isarel] (regdnatrans) -- (regnatrans);
			\draw[partrel] (dnatransinit) -- (dnatrans);
			\draw[regrel] (regdnatransinit) -- (dnatransinit);
			\draw[isarel] (regdnatransinit) -- (regdnatrans);
			\draw[posrel] (posregdnatransinit.west) .. controls (4280,1370) and (4290,1260) .. (dnatransinit.south west);
			\draw[isarel] (posregdnatransinit) -- (regdnatransinit);
			\draw[isarel] (posregdnatransinit) -- (posregdnatrans);
			\draw[posrel] (posregdnatrans.north east) .. controls (4700,1250) and (4840,1250) .. (dnatrans.south);
			\draw[isarel] (posregdnatrans) -- (regdnatrans);
			\draw[isarel] (posregdnatrans) -- (posregnatrans);
			\draw[negrel] (negregdnatrans) -- (dnatrans);
			\draw[isarel] (negregdnatrans) -- (regdnatrans);
			\draw[isarel] (negregdnatrans) -- (negregnatrans);
			\draw[partrel] (transinitpol2) -- (transpol2);
			\draw[regrel] (regtranspol2) -- (transpol2);
			\draw[isarel] (regtranspol2) -- (regdnatrans);
			\draw[regrel] (regtransinitpol2) -- (transinitpol2);
			\draw[isarel] (regtransinitpol2) -- (regtranspol2);
			\draw[isarel] (regtransinitpol2) -- (regdnatransinit);
			\draw[posrel] (posregtranspol2.north east) .. controls (5000,1355) and (5130,1330) .. (transpol2.south east);
			\draw[isarel] (posregtranspol2) -- (regtranspol2);
			\draw[isarel] (posregtranspol2) -- (posregdnatrans);
			\draw[negrel] (negregtranspol2.east) .. controls (5160,1390) and (5150,1230) .. (transpol2.east);
			\draw[isarel] (negregtranspol2) -- (regtranspol2);
			\draw[isarel] (negregtranspol2) -- (negregdnatrans);
			\draw[posrel] (posregtransinitpol2.north) -- (transinitpol2.south);
			\draw[isarel] (posregtransinitpol2) -- (regtransinitpol2);
			\draw[isarel] (posregtransinitpol2.east) .. controls (4740,1520) and (4790,1480) .. (posregtranspol2.south);
			\draw[isarel] (posregtransinitpol2.west) .. controls (4480,1520) and (4420,1480) .. (posregdnatransinit.south);
			\draw[regrel] (regrnabiosyn) -- (rnabiosyn);
			\draw[isarel] (regrnabiosyn) -- (regrnamet);
			\draw[isarel] (regrnabiosyn) -- (regmacrobiosyn);
			\draw[posrel] (posregrnabiosyn.north east) .. controls (4200,960) and (4550,920) .. (rnabiosyn.south);
			\draw[isarel] (posregrnabiosyn) -- (regrnabiosyn);
			\draw[isarel] (posregrnabiosyn) -- (posregrnamet);
			\draw[isarel] (posregrnabiosyn.west) .. controls (3750,1060) and (3690,900) .. (posregmacrobiosyn.south);
			\draw[negrel] (negregrnabiosyn.north east) .. controls (4400,980) and (4600,900) .. (rnabiosyn.south);
			\draw[isarel] (negregrnabiosyn) -- (regrnabiosyn);
			\draw[isarel] (negregrnabiosyn) -- (negregrnamet);
			\draw[isarel] (negregrnabiosyn) -- (negregmacrobiosyn);
			\draw[posrel] (posregrnamet.north east) .. controls (4000,830) and (4480,830) .. (rnamet.south);
			\draw[isarel] (posregrnamet) -- (regrnamet);
			\draw[isarel] (posregrnamet) -- (posregnucmet);
			\draw[negrel] (negregrnamet.north) .. controls (4150,830) and (4520,830) .. (rnamet.south);
			\draw[isarel] (negregrnamet) -- (regrnamet);
			\draw[isarel] (negregrnamet) -- (negregnucmet);
			
			\draw[regrel] (regimm) -- (immsys);
			\draw[isarel] (regimm) -- (regbp);
			\draw[regrel] (regmult) -- (multorg);
			\draw[isarel] (regmult) -- (regbp);
			\draw[isarel] (cellact) -- (cellp);
			\draw[isarel] (cellact) -- (multorg);
			\draw[regrel] (regcellact) -- (cellact);
			\draw[isarel] (regcellact) -- (regmult);
			\draw[isarel] (regcellact) -- (regcellp);
			\draw[isarel] (leukact) -- (cellact);
			\draw[isarel] (leukact) .. controls (5690,230) and (5640,200) .. (immsys);
			\draw[isarel] (sysproc) -- (multorg);
			\draw[isarel] (multhomeo) -- (homeo);
			\draw[isarel] (multhomeo) -- (multorg);
			\draw[isarel] (chemhomeo) -- (homeo);
			\draw[isarel] (circsys) -- (sysproc);
			\draw[isarel] (homeonum) -- (multhomeo);
			\draw[isarel] (ionhomeo) -- (chemhomeo);
			\draw[isarel] (inorghomeo) -- (chemhomeo);
			\draw[regrel] (regleukact) -- (leukact);
			\draw[isarel] (regleukact) -- (regcellact);
			\draw[isarel] (regleukact) -- (regimm);
			\draw[isarel] (lymphact) -- (leukact);
			\draw[isarel] (heart.west) .. controls (5940,410) and (5925,380) .. (circsys.south);
			\draw[isarel] (hsch) -- (homeonum);
			\draw[isarel] (isch.west) .. controls (6250,410) and (6240,370) .. (homeonum.south east);
			\draw[isarel] (cationhomeo) -- (ionhomeo);
			\draw[regrel] (reglymphact) -- (lymphact);
			\draw[isarel] (reglymphact) -- (regleukact);
			\draw[isarel] (tcellact) -- (lymphact);
			\draw[isarel] (calcium) -- (cationhomeo);
			\draw[isarel] (calcium.east) .. controls (6620,515) and (6610,420) .. (inorghomeo.south);
			\draw[isarel] (lymphprolif) -- (lymphact);
			\draw[isarel] (reglymphprolif) -- (reglymphact);
			\draw[isarel] (tcellprolif) -- (lymphprolif);
			\draw[isarel] (tcellprolif) -- (tcellact);
			\draw[regrel] (regtcellact) -- (tcellact);
			\draw[isarel] (regtcellact) -- (reglymphact);
			\draw[regrel] (regtcellprolif) -- (tcellprolif);
			\draw[isarel] (regtcellprolif.east) .. controls (5760,745) and (5800,700) .. (regtcellact.south);
			\draw[isarel] (regtcellprolif.west) .. controls (5560,745) and (5500,700) .. (reglymphprolif.south);
			\end{scope}
			
			%%%%% END %%%%%
\end{tikzpicture}
\end{document}
